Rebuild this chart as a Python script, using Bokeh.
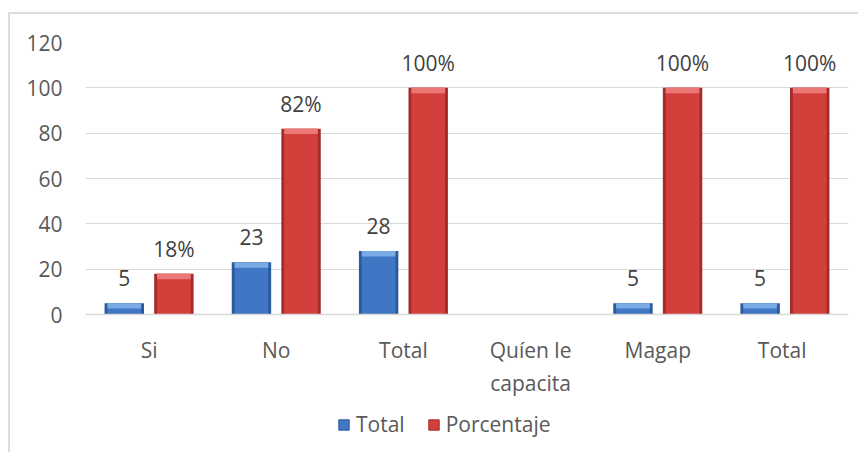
from bokeh.plotting import figure
from bokeh.layouts import column
from bokeh.models import ColumnDataSource, FactorRange, Legend, LegendItem, LabelSet, FixedTicker, Range1d
from bokeh.core.properties import value
from bokeh.embed import file_html
from bokeh.resources import INLINE
from bokeh.transform import dodge
import numpy as np

categories = ["Si", "No", "Total", "Quíen le\ncapacita", "Magap", "Total "]
total_vals = [5, 23, 28, np.nan, 5, 5]
pct_vals = [18, 82, 100, np.nan, 100, 100]
total_labels = ["5", "23", "28", "", "5", "5"]
pct_labels = ["18%", "82%", "100%", "", "100%", "100%"]
y_ticks = [0, 20, 40, 60, 80, 100, 120]

FONT = "Open Sans"
TXT = "#595959"
BLUE = dict(edge="#2C5A9A", main="#3F77C4", light="#86B4EA")
RED = dict(edge="#A32C2A", main="#D3403C", light="#EE8380")

band = 2.4  # top bevel height (in value units)
src = ColumnDataSource(dict(
    cat=categories,
    total=total_vals,
    pct=pct_vals,
    total_band=[v - band if v == v else np.nan for v in total_vals],
    pct_band=[v - band if v == v else np.nan for v in pct_vals],
    tl=total_labels,
    pl=pct_labels,
))

p = figure(x_range=FactorRange(*categories), y_range=(0, 120),
           width=850, height=440, output_backend="svg", toolbar_location=None,
           min_border_left=75, min_border_right=12, min_border_top=28, min_border_bottom=140)
p.styles = {"border-left": "2px solid #dcdcdc", "border-top": "2px solid #dcdcdc",
            "margin-top": "12px", "margin-left": "8px"}
p.outline_line_color = None
p.xgrid.grid_line_color = None
p.ygrid.grid_line_color = "#d9d9d9"
p.ygrid.grid_line_width = 1.2
p.yaxis.ticker = FixedTicker(ticks=y_ticks)
p.yaxis.axis_line_color = None
p.yaxis.major_tick_line_color = None
p.yaxis.minor_tick_line_color = None
p.yaxis.major_label_text_font = FONT
p.yaxis.major_label_text_font_size = "21px"
p.yaxis.major_label_text_color = TXT
p.yaxis.major_label_standoff = 17
p.xaxis.axis_line_color = "#d9d9d9"
p.xaxis.axis_line_width = 1.5
p.xaxis.major_tick_line_color = None
p.xaxis.minor_tick_line_color = None
p.xaxis.major_label_text_font = FONT
p.xaxis.major_label_text_font_size = "21px"
p.xaxis.major_label_text_color = TXT
p.xaxis.major_label_standoff = 15
p.x_range.range_padding = 0

W = 0.31
D = 0.195
for key, band_key, off, col in [("total", "total_band", -D, BLUE), ("pct", "pct_band", D, RED)]:
    xx = dodge("cat", off, range=p.x_range)
    p.vbar(x=xx, top=key, bottom=0, width=W, source=src, fill_color=col["edge"], line_color=None)
    p.vbar(x=xx, top=key, bottom=0, width=W - 0.045, source=src, fill_color=col["main"], line_color=None)
    p.vbar(x=xx, top=key, bottom=band_key, width=W - 0.045, source=src, fill_color=col["light"],
           line_color=None, fill_alpha=0.85)

for key, lab, off in [("total", "tl", -D), ("pct", "pl", D)]:
    ls = LabelSet(x=dodge("cat", off, range=p.x_range), y=key, text=lab, source=src,
                  text_align="center", text_baseline="middle", y_offset=25,
                  text_font=value(FONT), text_font_size="21px", text_color="#404040")
    p.add_layout(ls)

# legend strip (separate small figure overlapping the bottom of the chart)
p2 = figure(x_range=FactorRange(*categories), y_range=Range1d(1000, 1001),
            width=763, height=34, output_backend="svg", toolbar_location=None,
            min_border=0, min_border_left=0, min_border_right=0, min_border_top=0, min_border_bottom=0)
p2.styles = {"margin-left": "85px", "margin-top": "-45px"}
p2.axis.visible = False
p2.grid.visible = False
p2.outline_line_color = None
p2.background_fill_alpha = 0
p2.border_fill_alpha = 0
lr = {}
for key, off, col in [("total", -D, BLUE), ("pct", D, RED)]:
    lr[key] = p2.vbar(x=dodge("cat", off, range=p2.x_range), top=key, bottom=0, width=W, source=src,
                      fill_color=col["main"], line_color=col["edge"])
legend = Legend(items=[LegendItem(label="Total", renderers=[lr["total"]]),
                       LegendItem(label="Porcentaje", renderers=[lr["pct"]])],
                orientation="horizontal", location=(177, 3),
                glyph_width=13, glyph_height=13, label_standoff=6, spacing=22,
                padding=0, margin=0, border_line_color=None, background_fill_alpha=0,
                label_text_font=FONT, label_text_font_size="21px", label_text_color=TXT)
p2.add_layout(legend, "center")

layout = column(p, p2, spacing=0)
open("out.html", "w").write(file_html(layout, INLINE))
